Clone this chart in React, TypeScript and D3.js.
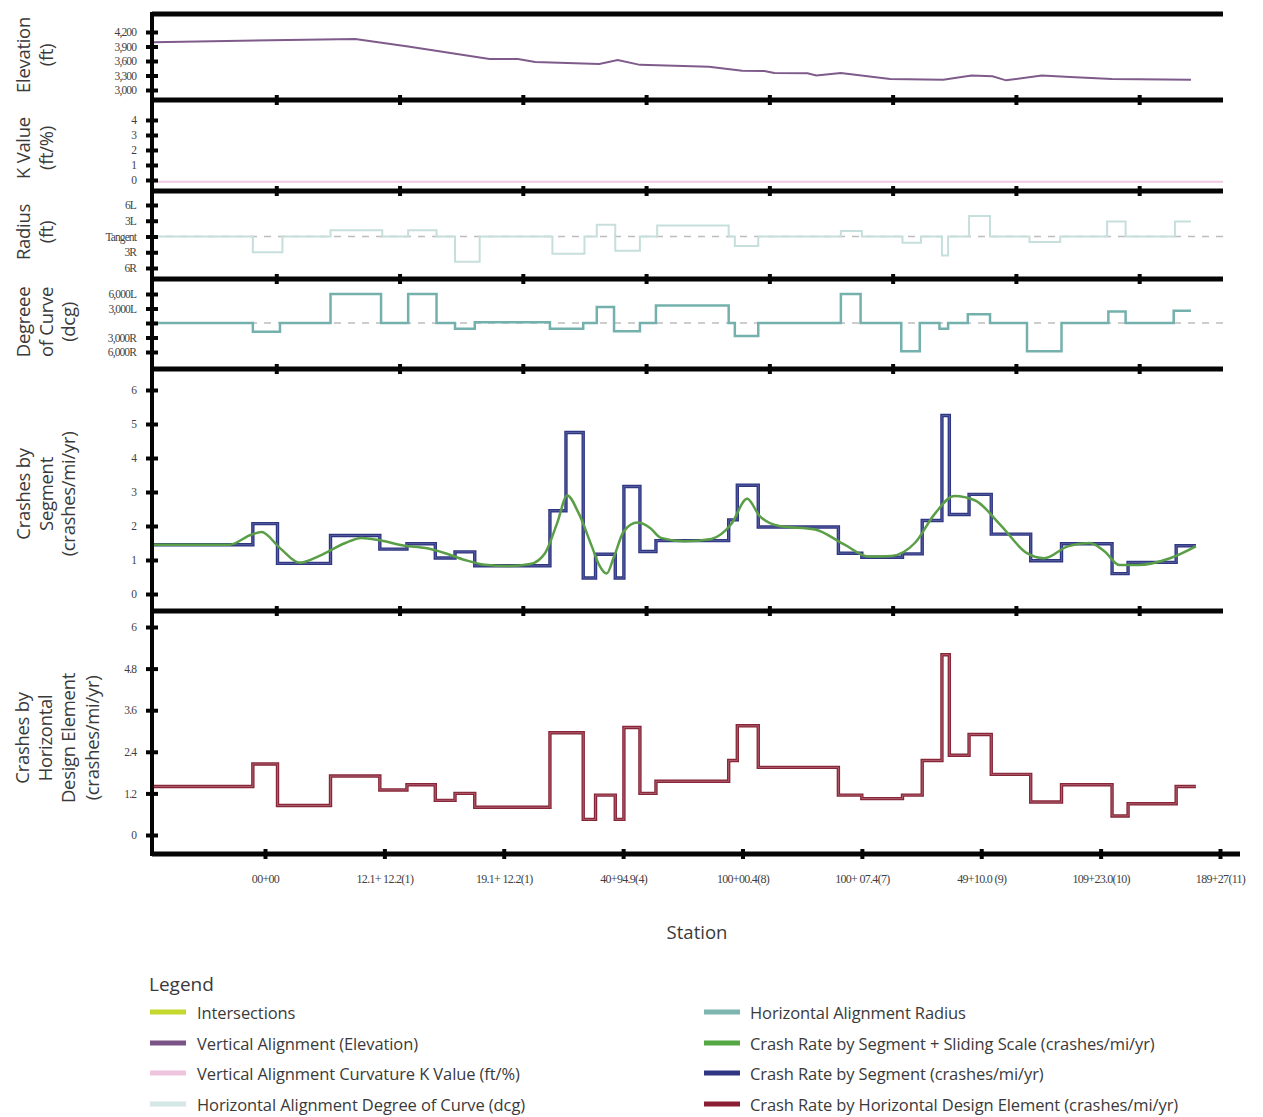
import React, { useEffect, useRef } from 'react';
import * as d3 from 'd3';

// positions along the corridor, in chart units (0 = start of the study section)
const elevStations = [0, 1.64, 2.07, 2.73, 2.96, 3.1, 3.62, 3.77, 3.95, 4.51, 4.78, 4.96, 5.04, 5.31, 5.38, 5.58, 5.98, 6.41, 6.64, 6.81, 6.92, 7.21, 7.44, 7.78, 8.42];
const elevFeet = [3990, 4055, 3900, 3640, 3640, 3580, 3540, 3620, 3520, 3480, 3400, 3395, 3350, 3345, 3300, 3350, 3230, 3210, 3300, 3285, 3200, 3300, 3270, 3230, 3210];

const kStations = [0, 8.68];
const kValues = [-0.12, -0.12];

// +1 = 3L, +2 = 6L, -1 = 3R, -2 = 6R
const radiusBreaks = [0, 0.81, 1.05, 1.44, 1.86, 2.07, 2.3, 2.45, 2.65, 3.24, 3.5, 3.6, 3.75, 3.95, 4.09, 4.67, 4.72, 4.91, 5.58, 5.75, 6.08, 6.23, 6.4, 6.45, 6.62, 6.79, 7.11, 7.36, 7.74, 7.89, 8.29, 8.42];
const radiusValues = [0, -1, 0, 0.4, 0, 0.4, 0, -1.6, 0, -1.1, 0, 0.75, -0.9, 0, 0.7, 0, -0.6, 0, 0.35, 0, -0.4, 0, -1.2, 0, 1.3, 0, -0.35, 0, 0.95, 0, 0.95];

const degreeBreaks = [0, 0.81, 1.03, 1.44, 1.85, 2.07, 2.3, 2.45, 2.61, 3.22, 3.49, 3.6, 3.74, 3.95, 4.08, 4.67, 4.72, 4.91, 5.58, 5.74, 6.07, 6.22, 6.38, 6.45, 6.61, 6.79, 7.09, 7.37, 7.75, 7.89, 8.28, 8.42];
const degreeValues = [0, -0.6, 0, 2, 0, 2, 0, -0.4, 0.05, -0.4, 0, 1.1, -0.57, 0, 1.2, 0, -0.9, 0, 2, 0, -1.95, 0, -0.4, 0, 0.6, 0, -1.95, 0, 0.8, 0, 0.85];

const segBreaks = [0, 0.81, 1.01, 1.44, 1.84, 2.06, 2.29, 2.45, 2.61, 3.22, 3.35, 3.49, 3.59, 3.75, 3.82, 3.95, 4.08, 4.67, 4.74, 4.91, 5.56, 5.75, 6.08, 6.24, 6.4, 6.46, 6.62, 6.8, 7.12, 7.37, 7.78, 7.91, 8.3, 8.46];
const segRates = [1.45, 2.07, 0.9, 1.72, 1.32, 1.48, 1.06, 1.24, 0.83, 2.45, 4.75, 0.47, 1.17, 0.47, 3.16, 1.25, 1.57, 2.18, 3.2, 1.97, 1.2, 1.08, 1.18, 2.16, 5.25, 2.34, 2.93, 1.76, 0.98, 1.48, 0.6, 0.93, 1.42];

const slideStations = [0, 0.62, 0.8, 0.88, 1.03, 1.19, 1.35, 1.56, 1.69, 1.84, 2.04, 2.21, 2.37, 2.53, 2.69, 2.89, 3.06, 3.18, 3.28, 3.36, 3.45, 3.56, 3.62, 3.68, 3.74, 3.82, 3.93, 4.03, 4.12, 4.31, 4.53, 4.69, 4.82, 4.92, 5.08, 5.37, 5.61, 5.81, 5.99, 6.18, 6.34, 6.5, 6.67, 6.87, 7.09, 7.23, 7.42, 7.6, 7.72, 7.84, 7.99, 8.25, 8.46];
const slideRates = [1.45, 1.45, 1.75, 1.82, 1.35, 0.92, 1.12, 1.5, 1.65, 1.58, 1.42, 1.35, 1.2, 1.0, 0.86, 0.82, 0.88, 1.2, 2.1, 2.9, 2.4, 1.4, 0.85, 0.6, 1.1, 1.85, 2.1, 1.95, 1.65, 1.55, 1.62, 2.05, 2.8, 2.3, 2.0, 1.9, 1.45, 1.1, 1.12, 1.5, 2.35, 2.88, 2.75, 2.05, 1.2, 1.05, 1.4, 1.5, 1.25, 0.85, 0.85, 1.05, 1.4];

const hdeBreaks = [0, 0.81, 1.01, 1.44, 1.84, 2.06, 2.29, 2.45, 2.61, 3.22, 3.49, 3.59, 3.75, 3.82, 3.95, 4.08, 4.67, 4.74, 4.91, 5.56, 5.75, 6.08, 6.24, 6.4, 6.46, 6.62, 6.8, 7.12, 7.37, 7.78, 7.91, 8.3, 8.46];
const hdeRates = [1.4, 2.05, 0.85, 1.7, 1.3, 1.45, 1.0, 1.2, 0.8, 2.95, 0.45, 1.15, 0.45, 3.1, 1.2, 1.55, 2.15, 3.15, 1.95, 1.15, 1.05, 1.15, 2.15, 5.2, 2.3, 2.9, 1.75, 0.95, 1.45, 0.55, 0.9, 1.4];

const stationLabels = ['00+00', '12.1+ 12.2(1)', '19.1+ 12.2(1)', '40+94.9(4)', '100+00.4(8)', '100+ 07.4(7)', '49+10.0 (9)', '109+23.0(10)', '189+27(11)'];

const elevTicks = [3000, 3300, 3600, 3900, 4200];
const kTicks = [0, 1, 2, 3, 4];
const radiusTicks = [-2, -1, 0, 1, 2];
const radiusTickLabels = ['6R', '3R', 'Tangent', '3L', '6L'];
const degreeTicks = [-2, -1, 0, 1, 2];
const degreeTickLabels = ['6,000R', '3,000R', '', '3,000L', '6,000L'];
const segTicks = [0, 1, 2, 3, 4, 5, 6];
const hdeTicks = [0, 1.2, 2.4, 3.6, 4.8, 6];

const legendLeft = [
  ['Intersections', '#c4d82e'],
  ['Vertical Alignment (Elevation)', '#7a5486'],
  ['Vertical Alignment Curvature K Value (ft/%)', '#eec3de'],
  ['Horizontal Alignment Degree of Curve (dcg)', '#d4e7e5'],
];
const legendRight = [
  ['Horizontal Alignment Radius', '#7db5b1'],
  ['Crash Rate by Segment + Sliding Scale (crashes/mi/yr)', '#55a744'],
  ['Crash Rate by Segment (crashes/mi/yr)', '#2f3581'],
  ['Crash Rate by Horizontal Design Element  (crashes/mi/yr)', '#8a1c33'],
];

const sans = '"Open Sans", "Noto Sans", sans-serif';
const serif = '"Liberation Serif", "DejaVu Serif", serif';
const textCol = '#3a3a3a';

export default function App() {
  const ref = useRef<SVGSVGElement>(null);

  useEffect(() => {
    const svg = d3.select(ref.current);
    svg.selectAll('*').remove();

    const x = d3.scaleLinear().domain([0, 8.68]).range([153, 1223]);
    const axisX = 152;
    const seps = [100, 191, 279, 369, 611];

    const elevY = d3.scaleLinear().domain([3000, 4200]).range([90, 32]);
    const kY = d3.scaleLinear().domain([0, 4]).range([180, 120]);
    const radY = d3.scaleLinear().domain([-2, 2]).range([268, 205]);
    const degY = d3.scaleLinear().domain([-2, 2]).range([352, 294]);
    const segY = d3.scaleLinear().domain([0, 6]).range([594, 390]);
    const hdeY = d3.scaleLinear().domain([0, 6]).range([835, 627]);

    const pts = (xs: number[], ys: number[]) => xs.map((s, i) => [s, ys[Math.min(i, ys.length - 1)]] as [number, number]);

    const drawLine = (data: [number, number][], y: any, color: string, w: number, curve: any) => {
      const gen = d3.line<[number, number]>().x(d => x(d[0])).y(d => y(d[1])).curve(curve);
      return svg.append('path').attr('d', gen(data)).attr('fill', 'none')
        .attr('stroke', color).attr('stroke-width', w).attr('stroke-linejoin', 'miter');
    };

    // dashed reference lines (tangent)
    [radY(0), degY(0)].forEach(yy => {
      svg.append('line').attr('x1', axisX).attr('x2', x(8.68)).attr('y1', yy).attr('y2', yy)
        .attr('stroke', '#bdbdbd').attr('stroke-width', 1.6).attr('stroke-dasharray', '7,7');
    });

    // series
    drawLine(pts(elevStations, elevFeet), elevY, '#7e5b8b', 2, d3.curveLinear);
    drawLine(pts(kStations, kValues), kY, '#efc8e1', 2, d3.curveLinear);
    drawLine(pts(radiusBreaks, radiusValues), radY, '#c6dfdc', 2, d3.curveStepAfter);
    drawLine(pts(degreeBreaks, degreeValues), degY, '#74b1ac', 2.5, d3.curveStepAfter);

    drawLine(pts(segBreaks, segRates), segY, '#2f3682', 3.4, d3.curveStepAfter);
    drawLine(pts(segBreaks, segRates), segY, '#5c63a2', 0.9, d3.curveStepAfter);
    drawLine(pts(slideStations, slideRates), segY, '#5a9f47', 2.5, d3.curveMonotoneX);

    drawLine(pts(hdeBreaks, hdeRates), hdeY, '#862638', 3.4, d3.curveStepAfter);
    drawLine(pts(hdeBreaks, hdeRates), hdeY, '#b46373', 0.9, d3.curveStepAfter);

    // frame lines
    const black = '#050505';
    svg.append('line').attr('x1', axisX).attr('x2', x(8.68)).attr('y1', 14).attr('y2', 14)
      .attr('stroke', black).attr('stroke-width', 5);
    seps.forEach(sy => {
      svg.append('line').attr('x1', axisX).attr('x2', x(8.68)).attr('y1', sy).attr('y2', sy)
        .attr('stroke', black).attr('stroke-width', 5);
      const g = svg.append('g').attr('transform', `translate(0,${sy - 5})`)
        .call(d3.axisBottom(x).tickValues([1, 2, 3, 4, 5, 6, 7, 8]).tickSize(10).tickFormat(() => ''));
      g.select('.domain').remove();
      g.selectAll('line').attr('stroke', black).attr('stroke-width', 4);
    });
    svg.append('line').attr('x1', axisX).attr('x2', 1240).attr('y1', 854).attr('y2', 854)
      .attr('stroke', black).attr('stroke-width', 5);
    svg.append('line').attr('x1', axisX).attr('x2', axisX).attr('y1', 12).attr('y2', 856)
      .attr('stroke', black).attr('stroke-width', 4);

    // y axes
    const yAxis = (scale: any, ticks: number[], fmt: (d: number, i: number) => string) => {
      const g = svg.append('g').attr('transform', `translate(${axisX + 6},0)`)
        .call(d3.axisLeft(scale).tickValues(ticks).tickSize(12).tickPadding(10).tickFormat(fmt as any));
      g.select('.domain').remove();
      g.selectAll('line').attr('stroke', black).attr('stroke-width', 4);
      g.selectAll('text').attr('font-family', serif).attr('font-size', 11.5).attr('fill', '#3f3f3f')
        .attr('letter-spacing', -0.9);
    };
    yAxis(elevY, elevTicks, d => d3.format(',')(d));
    yAxis(kY, kTicks, d => String(d));
    yAxis(radY, radiusTicks, (_d, i) => radiusTickLabels[i]);
    yAxis(degY, degreeTicks, (_d, i) => degreeTickLabels[i]);
    yAxis(segY, segTicks, d => String(d));
    yAxis(hdeY, hdeTicks, d => (d === 0 || d === 6 ? String(d) : d3.format('.1f')(d)));

    // station axis
    const st = d3.scalePoint().domain(stationLabels).range([265, 1220]);
    const bx = svg.append('g').attr('transform', 'translate(0,849)')
      .call(d3.axisBottom(st).tickSize(10).tickPadding(15));
    bx.select('.domain').remove();
    bx.selectAll('line').attr('stroke', black).attr('stroke-width', 4);
    bx.selectAll('text').attr('font-family', serif).attr('font-size', 12).attr('fill', '#3f3f3f')
      .attr('letter-spacing', -0.7);

    svg.append('text').attr('x', 697).attr('y', 939).attr('text-anchor', 'middle')
      .attr('font-family', sans).attr('font-size', 18.5).attr('fill', textCol).text('Station');

    // panel titles
    const titles: [number, string[], number[]][] = [
      [55, ['Elevation', '(ft)'], [22, 45]],
      [148, ['K Value', '(ft/%)'], [22, 45]],
      [232, ['Radius', '(ft)'], [22, 45]],
      [322, ['Degreee', 'of Curve', '(dcg)'], [22, 45, 67]],
      [494, ['Crashes by', 'Segment', '(crashes/mi/yr)'], [22, 45, 67]],
      [738, ['Crashes by', 'Horizontal', 'Design Element', '(crashes/mi/yr)'], [21, 44, 67, 91]],
    ];
    titles.forEach(([cy, lines, xs]) => {
      lines.forEach((t, i) => {
        svg.append('text').attr('transform', `translate(${xs[i]},${cy}) rotate(-90)`)
          .attr('text-anchor', 'middle').attr('dominant-baseline', 'central')
          .attr('font-family', sans).attr('font-size', 18.5).attr('fill', textCol)
          .attr('letter-spacing', -0.3).text(t);
      });
    });

    // legend
    svg.append('text').attr('x', 149).attr('y', 991).attr('font-family', sans).attr('font-size', 19)
      .attr('fill', textCol).text('Legend');
    const rowY = [1012, 1043, 1073, 1104];
    const legendCol = (items: string[][], sx: number, tx: number) => {
      items.forEach(([label, color], i) => {
        svg.append('rect').attr('x', sx).attr('y', rowY[i] - 2.5).attr('width', 36).attr('height', 5).attr('fill', color);
        svg.append('text').attr('x', tx).attr('y', rowY[i]).attr('dominant-baseline', 'central')
          .attr('font-family', sans).attr('font-size', 16.5).attr('fill', textCol).attr('letter-spacing', -0.1).text(label);
      });
    };
    legendCol(legendLeft, 150, 197);
    legendCol(legendRight, 704, 750);
  }, []);

  return (
    <svg ref={ref} width={1263} height={1117} style={{ position: 'absolute', left: 0, top: 0, background: '#fff' }} />
  );
}
